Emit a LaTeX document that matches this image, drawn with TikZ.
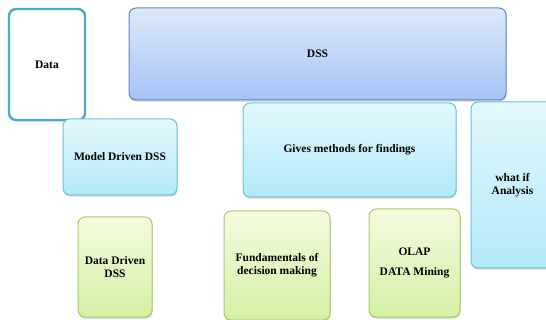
\documentclass[tikz,border=0pt]{standalone}
\usepackage{fontspec}
\setmainfont{Liberation Serif}
\usetikzlibrary{shadows}
\definecolor{tealline}{HTML}{4BACC6}
\definecolor{blueline}{HTML}{5B87C8}
\definecolor{bluetop}{HTML}{DDE8FA}
\definecolor{bluebot}{HTML}{A6C3F5}
\definecolor{cyanline}{HTML}{6BC3D6}
\definecolor{cyantop}{HTML}{E3F8FD}
\definecolor{cyanbot}{HTML}{B2E9F7}
\definecolor{greenline}{HTML}{A3CF66}
\definecolor{greentop}{HTML}{F3FBDF}
\definecolor{greenbot}{HTML}{D5F0A6}
\begin{document}
\begin{tikzpicture}[x=1pt,y=-1pt,
    card/.style={rounded corners=7pt,align=center,inner sep=2pt,
      font=\fontsize{11.5}{13}\selectfont\bfseries,
      drop shadow={shadow xshift=0.6pt,shadow yshift=-1.6pt,opacity=0.35}},
    plaincard/.style={card,draw=tealline,line width=2.4pt,fill=white,drop shadow={opacity=0}},
    bluecard/.style={card,draw=blueline,line width=1pt,top color=bluetop,bottom color=bluebot},
    cyancard/.style={card,draw=cyanline,line width=1pt,top color=cyantop,bottom color=cyanbot},
    greencard/.style={card,draw=greenline,line width=1pt,top color=greentop,bottom color=greenbot}]
    \useasboundingbox (0,0) rectangle (546,320);
    % riga in alto
    \node[plaincard,minimum width=76,minimum height=111] (data) at (47,64.5) {Data};
    \node[bluecard,minimum width=377,minimum height=92] (dss) at (317.5,54) {DSS};
    % riga centrale
    \node[cyancard,minimum width=114,minimum height=76] (model) at (120,157) {Model Driven DSS};
    \node[cyancard,minimum width=213,minimum height=94] (gives) at (349.5,150) {Gives methods for findings};
    \node[cyancard,minimum width=83,minimum height=166] (whatif) at (512.5,185) {what if\\Analysis};
    % riga in basso
    \node[greencard,minimum width=74,minimum height=100] (datadriven) at (115,267) {Data Driven\\DSS};
    \node[greencard,minimum width=106,minimum height=109] (fund) at (277,265.5) {Fundamentals of\\decision making};
    \node[greencard,minimum width=91,minimum height=108] (olap) at (414.5,263) {OLAP\\[7pt]DATA Mining};
  \end{tikzpicture}
\end{document}
